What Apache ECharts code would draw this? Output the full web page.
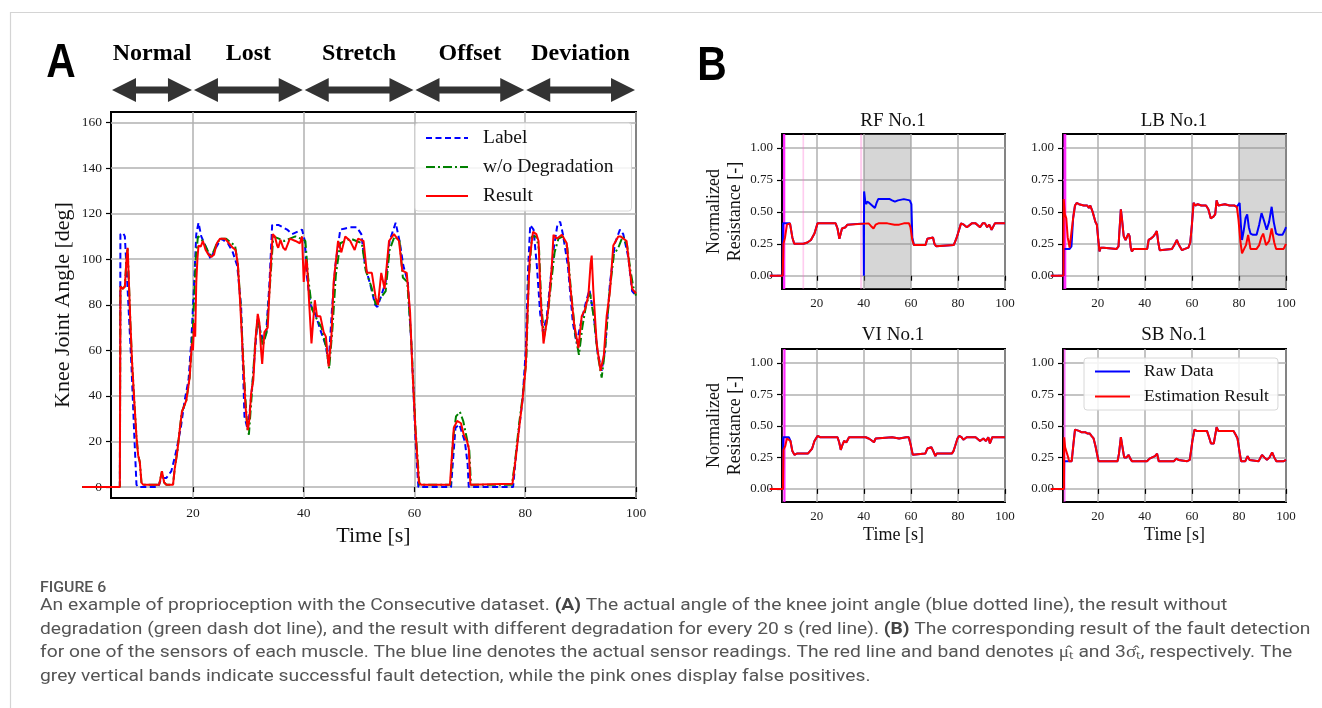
<!DOCTYPE html>
<html>
<head>
<meta charset="utf-8">
<script src="https://cdn.jsdelivr.net/npm/echarts@6/dist/echarts.min.js"></script>
<style>
  html, body { margin: 0; padding: 0; background: #fff; }
  #main { width: 1322px; height: 708px; }
</style>
</head>
<body>
<div id="main"></div>
<script>
// ---- panel A : knee joint angle [deg] vs time [s] ----
const segNames = ['Normal', 'Lost', 'Stretch', 'Offset', 'Deviation'];
const segStart = [5.2, 20, 40, 60, 80];
const segEnd = [20, 40, 60, 80, 100];
const angleTicks = [0, 20, 40, 60, 80, 100, 120, 140, 160];
const timeTicks = [20, 40, 60, 80, 100];
const resTicks = [0, 0.25, 0.5, 0.75, 1.0];

const labelAngle = [[0,0],[6.8,0],[6.9,111],[7.4,111.5],[7.7,110],[8.3,82],[8.9,53],[9.4,23],[9.8,1],[10.1,0],[13.7,0],[14.3,4],[15.2,4],[16.1,7],[17.0,16],[17.8,26],[18.5,38],[19.2,47],[19.7,64],[20.2,89],[20.6,111],[21.0,116],[21.5,110],[22.4,105],[23.2,100],[23.9,104],[25.1,109],[26.3,107],[27.2,103],[28.0,97],[28.7,79],[29.3,31],[29.9,25],[30.8,47],[31.7,75],[32.0,70],[32.6,65],[33.2,67],[33.8,89],[34.3,115],[35.5,115],[37.0,113],[37.9,111],[38.8,112],[39.7,113],[40.2,108],[40.6,92],[41.2,80],[42.1,76],[43.0,69],[44.0,62],[44.5,54],[45.1,78],[45.7,97],[46.6,113],[47.5,113.5],[48.4,114],[49.6,114],[50.4,111],[51.1,97],[52.0,89],[52.9,80],[53.3,79],[54.0,84],[54.8,90],[55.5,108],[56.6,116],[57.3,108],[58.0,97],[58.8,90],[59.5,60],[60.2,20],[60.7,0],[66.6,0],[67.4,26],[68.1,27.5],[69.1,20],[69.6,10],[69.8,0],[77.8,0],[78.3,13],[78.9,26],[79.5,38],[80.1,60],[80.5,95],[80.9,115],[81.5,113],[82.1,97],[82.7,76],[83.2,68],[83.9,75],[85.1,104],[85.8,115],[86.3,116.5],[86.8,111],[87.7,97],[88.6,72],[89.3,63],[89.9,70.5],[91.0,81.5],[91.6,86.5],[92.4,75],[93.0,60],[93.8,51],[94.4,60],[95.3,89.5],[96.2,107],[97.1,113],[97.7,111],[98.6,101],[99.3,86],[100,84]];

const noDegAngle = [[0,0],[6.8,0],[6.9,88],[7.3,87],[7.7,88],[8.0,100],[8.2,105],[8.4,92],[8.7,72],[9.0,55],[9.4,38],[9.8,22],[10.1,14],[10.4,11],[10.7,2],[11.0,1],[13.9,1],[14.4,7],[14.8,2],[15.2,1],[16.4,1],[16.7,8],[17.2,16],[17.6,25],[18.0,33],[18.8,38],[19.4,48],[20.0,70],[20.5,100],[20.9,110],[21.5,109],[22.2,106],[23.0,102],[23.5,102],[24.3,107],[25.0,109],[26.0,109],[27.0,107],[27.6,106],[28.1,98],[28.6,80],[29.2,50],[29.8,26],[30.1,23],[30.6,40],[31.2,62],[31.7,74],[32.2,68],[32.6,62],[33.3,68],[34.0,92],[34.5,110],[35.5,109],[36.5,108],[37.5,109],[38.5,110],[39.5,109],[40.3,108],[40.8,92],[41.5,78],[42.3,74],[43.2,70],[44.1,61],[44.6,52],[45.2,70],[45.8,93],[46.6,107],[47.5,108],[48.5,109],[49.5,108],[50.5,107],[51.2,95],[52.2,88],[53.0,80],[53.6,82],[54.2,84],[54.8,86],[55.5,104],[56.4,110],[57.3,108],[57.9,92],[58.7,90],[59.4,65],[60.2,25],[60.9,1],[66.5,1],[67.0,22],[67.5,31],[68.2,33],[68.8,29],[69.4,22],[69.9,16],[70.2,1],[77.6,1],[78.2,12],[78.9,28],[79.6,41],[80.2,56],[80.6,90],[81.2,110],[82.0,110],[82.5,104],[82.9,80],[83.4,66],[84.0,74],[84.6,88],[85.3,103],[86.0,109],[86.8,110],[87.6,105],[88.3,85],[89.1,66],[89.7,58],[90.3,70],[91.0,80],[91.7,85],[92.4,74],[93.1,58],[93.8,48],[94.4,60],[95.2,85],[96.0,102],[96.8,105],[97.6,110],[98.4,106],[99.0,95],[99.5,88],[100,84]];

const resultAngle = [[0,0],[6.8,0],[6.9,88],[7.3,87],[7.7,88],[8.0,100],[8.2,105],[8.4,92],[8.7,72],[9.0,55],[9.4,38],[9.8,22],[10.1,14],[10.4,11],[10.7,2],[11.0,1],[13.9,1],[14.4,7],[14.8,2],[15.2,1],[16.4,1],[16.7,8],[17.2,16],[17.6,25],[18.0,33],[18.8,38],[19.4,48],[19.8,63],[20.0,60],[20.2,72],[20.4,66],[20.6,90],[20.8,100],[21.0,106],[21.4,105.5],[21.8,108],[22.3,104],[22.8,102],[23.3,101],[23.8,102],[24.3,107],[24.9,109],[25.8,109],[26.5,107],[27.2,105],[27.7,104],[28.1,98],[28.5,82],[29.0,58],[29.5,35],[29.9,25],[30.2,30],[30.5,41],[30.9,47],[31.3,65],[31.7,76],[32.0,72],[32.3,60],[32.5,54],[32.9,68],[33.5,70],[34.0,95],[34.4,111],[34.8,110],[35.2,106],[35.4,105],[35.8,108.5],[36.3,105],[36.7,104],[37.5,109],[38.5,108],[39.3,107],[39.7,110],[40.0,90],[40.4,100],[40.6,98],[41.0,80],[41.4,63],[42.0,82],[42.4,75],[43.0,75],[43.6,68],[44.0,66],[44.5,53],[45.0,66],[45.4,90],[46.2,108],[46.8,103],[47.5,110],[48.4,108],[49.2,104],[49.8,109],[50.8,108],[51.4,94],[52.3,94],[53.0,83],[53.4,80],[54.0,94],[54.6,87],[55.4,108],[56.3,111],[57.2,108],[57.8,95],[58.6,94],[59.2,77],[59.6,53],[60.2,24],[60.8,2],[61.2,1],[66.4,1],[67.1,26],[67.7,29],[68.4,28],[68.9,23],[69.5,20],[69.8,17],[70.1,1],[77.7,1.5],[78.3,13],[78.9,26],[79.5,38],[80.1,53],[80.4,75],[80.8,100],[81.4,112],[82.0,111],[82.4,108],[82.8,82],[83.3,63],[83.9,73],[84.2,79],[84.8,97],[85.1,110.7],[85.7,109],[86.6,110.7],[87.5,107],[88.1,89],[88.8,72],[89.6,61],[90.2,75],[90.8,78],[91.4,84],[91.8,98],[92.0,101.6],[92.3,86],[92.9,63],[93.6,51],[94.2,58],[94.7,75],[95.3,86],[95.9,106],[96.8,110],[97.2,110],[98.3,108],[98.8,97],[99.3,87],[100,85]];

// ---- panel B : normalized resistance [-] vs time [s] ----
const rfEst = [[0,0],[5.5,0],[5.8,0.25],[6.5,0.30],[7.3,0.40],[8.0,0.41],[8.6,0.41],[9.6,0.30],[10.4,0.25],[10.9,0.24],[14.3,0.25],[16.0,0.26],[17.5,0.28],[19.0,0.33],[20.3,0.41],[28.0,0.41],[28.8,0.37],[29.6,0.29],[30.3,0.34],[30.7,0.37],[31.5,0.36],[32.2,0.38],[33.0,0.40],[33.5,0.41],[42.0,0.41],[43.0,0.39],[44.1,0.37],[45.0,0.40],[46.2,0.41],[50,0.41],[53,0.40],[55,0.40],[57,0.41],[59.2,0.41],[59.8,0.38],[60.6,0.28],[61.3,0.24],[66.2,0.24],[67.0,0.29],[67.6,0.30],[69.4,0.30],[70.0,0.25],[70.8,0.23],[71.3,0.24],[78.2,0.24],[79.3,0.29],[80.0,0.33],[81.3,0.41],[82.5,0.40],[83.8,0.38],[85.9,0.41],[87.5,0.41],[89.4,0.38],[90.5,0.41],[91.5,0.41],[92.4,0.38],[93.3,0.40],[94.3,0.36],[95.7,0.41],[100,0.41]];
const rfRawStart = [[0,0],[5.5,0],[5.6,0.41],[8.6,0.41]];
const rfRawFault = [[39.9,0.41],[40.0,0],[40.1,0.66],[40.6,0.58],[41.0,0.56],[41.4,0.58],[42.3,0.57],[43.5,0.55],[44.7,0.53],[45.4,0.57],[46.1,0.60],[48,0.60],[51,0.60],[52,0.59],[53.2,0.58],[54.5,0.59],[57,0.60],[59.5,0.59],[60.2,0.56],[60.6,0.30]];

const lbEst = [[0,0],[5.4,0],[5.5,0.60],[6.0,0.48],[6.6,0.45],[7.2,0.30],[8.0,0.22],[8.8,0.23],[9.5,0.45],[10.3,0.55],[11.0,0.57],[12,0.56],[14,0.55],[15.5,0.55],[16.2,0.53],[16.8,0.55],[17.8,0.50],[19.0,0.42],[19.6,0.40],[20.2,0.28],[20.7,0.19],[21.2,0.22],[21.8,0.21],[22.5,0.22],[23.2,0.21],[28.0,0.21],[28.8,0.23],[29.3,0.38],[29.8,0.52],[30.3,0.44],[31.0,0.31],[31.8,0.28],[32.4,0.28],[33.0,0.33],[33.5,0.31],[34.0,0.22],[34.5,0.19],[35.2,0.21],[41.0,0.21],[41.6,0.28],[42.5,0.29],[43.7,0.31],[44.5,0.33],[45.1,0.35],[45.7,0.26],[46.3,0.20],[47,0.21],[51.5,0.21],[52.5,0.24],[53.6,0.28],[54.5,0.24],[55.8,0.20],[57,0.21],[58.5,0.22],[59.3,0.26],[60.0,0.40],[60.7,0.57],[61.5,0.55],[62.5,0.56],[64,0.55],[66,0.55],[67.0,0.52],[68.0,0.45],[69.0,0.46],[69.9,0.48],[70.5,0.59],[71.2,0.55],[72.0,0.55],[74,0.56],[76,0.55],[78,0.55],[79.1,0.54],[79.8,0.44],[80.6,0.27],[81.3,0.175],[82.2,0.21],[83.0,0.24],[83.9,0.32],[84.9,0.21],[87.5,0.21],[88.6,0.24],[89.5,0.30],[90.3,0.33],[91.5,0.24],[92.8,0.27],[93.9,0.37],[95.0,0.26],[95.8,0.21],[99.0,0.21],[100,0.25]];
const lbRawStart = [[0,0],[5.4,0],[5.5,0.21],[8.0,0.21],[8.8,0.23]];
const lbRawFault = [[79.8,0.55],[80.3,0.57],[80.8,0.40],[81.3,0.28],[82.0,0.35],[82.8,0.45],[83.5,0.48],[84.2,0.38],[84.9,0.33],[86.0,0.32],[87.5,0.32],[88.6,0.40],[89.6,0.49],[90.5,0.44],[91.8,0.36],[92.8,0.42],[93.9,0.54],[94.8,0.42],[95.8,0.33],[97,0.32],[98.5,0.32],[99.6,0.36],[100,0.38]];

const viEst = [[0,0],[5.6,0],[5.8,0.31],[6.6,0.34],[7.3,0.40],[8.1,0.41],[8.8,0.38],[9.6,0.30],[10.5,0.27],[11.5,0.28],[16.2,0.28],[17.0,0.29],[18.0,0.32],[19.0,0.38],[20.3,0.42],[21.5,0.41],[28.8,0.41],[29.5,0.37],[30.2,0.31],[30.9,0.35],[31.6,0.38],[32.6,0.37],[33.7,0.41],[40.8,0.41],[42.0,0.40],[42.9,0.39],[44.3,0.37],[45.0,0.40],[45.7,0.41],[52,0.41],[55,0.40],[58,0.41],[59.1,0.41],[59.9,0.35],[60.8,0.27],[61.5,0.27],[66.1,0.28],[67.0,0.32],[67.6,0.33],[68.7,0.33],[69.5,0.30],[70.4,0.26],[71.0,0.28],[77.4,0.28],[78.1,0.30],[78.8,0.34],[79.8,0.40],[80.5,0.42],[81.5,0.41],[82.3,0.39],[83.7,0.41],[86.0,0.41],[87.5,0.41],[89.4,0.38],[90.8,0.40],[91.9,0.38],[92.9,0.41],[93.6,0.36],[94.6,0.41],[100,0.41]];
const viRawStart = [[0,0],[5.6,0],[5.7,0.41],[8.1,0.41]];

const sbEst = [[0,0],[5.6,0],[5.7,0.41],[6.1,0.33],[6.5,0.32],[6.9,0.33],[7.4,0.25],[7.8,0.22],[8.9,0.22],[9.6,0.35],[10.3,0.47],[11,0.46],[12,0.46],[13,0.45],[14.6,0.45],[15.5,0.44],[16.5,0.44],[17.3,0.42],[18.2,0.40],[19.0,0.34],[20.3,0.22],[21,0.22],[28.4,0.22],[29.0,0.28],[29.8,0.41],[30.5,0.33],[31.2,0.25],[32.2,0.25],[33.1,0.27],[33.8,0.24],[34.5,0.22],[40.9,0.22],[42.0,0.24],[43.1,0.25],[44.3,0.26],[45.2,0.28],[45.9,0.22],[52.3,0.22],[53.4,0.24],[54.3,0.23],[55.1,0.22],[58.0,0.22],[59.1,0.23],[60.2,0.38],[61.1,0.47],[62,0.46],[64,0.46],[66.4,0.46],[67.3,0.41],[68.1,0.36],[69.3,0.36],[70.0,0.37],[70.5,0.49],[71.2,0.46],[72.1,0.46],[75,0.46],[77.7,0.46],[78.6,0.43],[79.4,0.40],[80.2,0.30],[80.9,0.22],[82.7,0.22],[83.7,0.26],[84.5,0.23],[85.1,0.22],[88.4,0.22],[89.2,0.25],[89.8,0.27],[90.8,0.25],[91.9,0.23],[93.0,0.25],[94.1,0.29],[95.0,0.25],[95.9,0.22],[99,0.22],[100,0.23]];
const sbRawStart = [[0,0],[5.6,0],[5.7,0.22],[7.8,0.22]];

// detection bands: [start, end, kind]
const rfBands = [[5.6, 6.6, 'fp'], [13.9, 14.6, 'fpLight'], [38.4, 39.3, 'fpLight'], [40, 60, 'hit']];
const lbBands = [[5.4, 6.6, 'fp'], [80, 100, 'hit']];
const viBands = [[5.3, 5.8, 'fpLight'], [5.8, 6.7, 'fp']];
const sbBands = [[5.3, 5.8, 'fpLight'], [5.8, 6.2, 'fp']];

const captionLines = [
  'An example of proprioception with the Consecutive dataset. {b|(A)} The actual angle of the knee joint angle (blue dotted line), the result without',
  'degradation (green dash dot line), and the result with different degradation for every 20 s (red line). {b|(B)} The corresponding result of the fault detection',
  'for one of the sensors of each muscle. The blue line denotes the actual sensor readings. The red line and band denotes μ̂ₜ and 3σ̂ₜ, respectively. The',
  'grey vertical bands indicate successful fault detection, while the pink ones display false positives.'
];

// raw sensor series = estimation outside the fault stretches
const rfRaw = rfRawStart.concat(rfEst.filter(p => p[0] > 8.6 && p[0] < 39.9), rfRawFault, rfEst.filter(p => p[0] > 60.6));
const lbRaw = lbRawStart.concat(lbEst.filter(p => p[0] > 8.8 && p[0] < 79.8), lbRawFault);
const viRaw = viRawStart.concat(viEst.filter(p => p[0] > 8.1));
const sbRaw = sbRawStart.concat(sbEst.filter(p => p[0] > 7.8));

const SERIF = 'Liberation Serif';
const GRIDLINE = { color: '#b0b0b0', width: 1.5 };
const X_MIN = 5.2, X_MAX = 100;
const bandColor = {
  hit: 'rgba(140,140,140,0.36)',
  fp: 'rgba(255,20,255,0.9)',
  fpLight: 'rgba(255,110,210,0.35)'
};

// visible frames (axes, grid lines) ...
const frames = [
  { left: 111, top: 112, width: 525, height: 386, yMin: -4.8, yMax: 164.6 },
  { left: 782, top: 134, width: 223, height: 155, yMin: -0.104, yMax: 1.11 },
  { left: 1063, top: 134, width: 223, height: 155, yMin: -0.104, yMax: 1.11 },
  { left: 782, top: 349, width: 223, height: 153, yMin: -0.104, yMax: 1.11 },
  { left: 1063, top: 349, width: 223, height: 153, yMin: -0.104, yMax: 1.11 }
];
// ... and data grids that also cover t = 0 .. X_MIN, as matplotlib draws the lines unclipped there
const grids = frames.map(f => ({ show: true, borderColor: '#000', borderWidth: 2, backgroundColor: '#fff', outerBoundsMode: 'none',
  left: f.left, top: f.top, width: f.width, height: f.height }));
frames.forEach(f => {
  const pxPerUnit = f.width / (X_MAX - X_MIN);
  grids.push({ show: false, outerBoundsMode: 'none', left: f.left - X_MIN * pxPerUnit, top: f.top, width: pxPerUnit * X_MAX, height: f.height });
});

function timeAxis(gi, fs, name, nameSize, nameGap) {
  return {
    type: 'value', gridIndex: gi, min: X_MIN, max: X_MAX,
    axisLine: { show: false },
    axisTick: { show: true, customValues: timeTicks, length: 5, lineStyle: { color: '#000', width: 1.2 } },
    axisLabel: { customValues: timeTicks, color: '#1a1a1a', fontFamily: SERIF, fontSize: fs, margin: 8 },
    splitLine: { show: true, lineStyle: GRIDLINE },
    name: name, nameLocation: 'middle', nameGap: nameGap,
    nameTextStyle: { fontFamily: SERIF, fontSize: nameSize, color: '#111' }
  };
}

function resAxis(gi, showName) {
  return {
    type: 'value', gridIndex: gi, min: frames[gi].yMin, max: frames[gi].yMax,
    axisLine: { show: false },
    axisTick: { show: true, customValues: resTicks, length: 5, lineStyle: { color: '#000', width: 1.2 } },
    axisLabel: { customValues: resTicks, color: '#1a1a1a', fontFamily: SERIF, fontSize: 13, margin: 9,
      formatter: v => v.toFixed(2) },
    splitLine: { show: true, lineStyle: GRIDLINE },
    name: showName ? 'Normalized\nResistance [-]' : '', nameLocation: 'middle', nameGap: 36,
    nameTextStyle: { fontFamily: SERIF, fontSize: 18, color: '#111', lineHeight: 21 }
  };
}

function line(name, data, k, color, type, z) {
  return {
    type: 'line', name: name, data: data, xAxisIndex: k + 5, yAxisIndex: k + 5,
    symbol: 'none', showSymbol: false, z: z,
    lineStyle: { color: color, width: 2, type: type },
    itemStyle: { color: color }
  };
}

function bandArea(bands) {
  return {
    silent: true,
    data: bands.map(b => [{ xAxis: b[0], itemStyle: { color: bandColor[b[2]] } }, { xAxis: b[1] }])
  };
}

const panelsB = [
  { k: 1, raw: rfRaw, est: rfEst, bands: rfBands },
  { k: 2, raw: lbRaw, est: lbEst, bands: lbBands },
  { k: 3, raw: viRaw, est: viEst, bands: viBands },
  { k: 4, raw: sbRaw, est: sbEst, bands: sbBands }
];

const series = [
  line('Label', labelAngle, 0, '#0000ff', [6, 3.5], 3),
  line('w/o Degradation', noDegAngle, 0, '#008000', [9, 3, 2, 3], 4),
  line('Result', resultAngle, 0, '#ff0000', 'solid', 5)
];
panelsB.forEach(p => {
  const raw = line('Raw Data', p.raw, p.k, '#0000ff', 'solid', 3);
  raw.markArea = bandArea(p.bands);
  series.push(raw);
  series.push(line('Estimation Result', p.est, p.k, '#ff0000', 'solid', 4));
});

const hiddenX = frames.map((f, i) => ({ type: 'value', gridIndex: i + 5, min: 0, max: X_MAX, show: false }));
const hiddenY = frames.map((f, i) => ({ type: 'value', gridIndex: i + 5, min: f.yMin, max: f.yMax, show: false }));

const chart = echarts.init(document.getElementById('main'), null, { renderer: 'canvas' });

const bTitles = [['RF No.1', 893, 121], ['LB No.1', 1174, 121], ['VI No.1', 893, 335], ['SB No.1', 1174, 335]];

const legendBase = {
  orient: 'vertical', selectedMode: false,
  backgroundColor: 'rgba(255,255,255,0.85)', borderColor: '#d8d8d8', borderWidth: 1, borderRadius: 3,
  itemStyle: { opacity: 0, borderWidth: 0 }
};

const option = {
  animation: false,
  backgroundColor: '#fff',
  grid: grids,
  xAxis: [
    timeAxis(0, 13.5, 'Time [s]', 22, 22),
    timeAxis(1, 13, '', 18, 24),
    timeAxis(2, 13, '', 18, 24),
    timeAxis(3, 13, 'Time [s]', 18, 24),
    timeAxis(4, 13, 'Time [s]', 18, 24)
  ].concat(hiddenX),
  yAxis: [
    {
      type: 'value', gridIndex: 0, min: frames[0].yMin, max: frames[0].yMax,
      axisLine: { show: false },
      axisTick: { show: true, customValues: angleTicks, length: 5, lineStyle: { color: '#000', width: 1.2 } },
      axisLabel: { customValues: angleTicks, color: '#1a1a1a', fontFamily: SERIF, fontSize: 13.5, margin: 9 },
      splitLine: { show: true, lineStyle: GRIDLINE },
      name: 'Knee Joint Angle [deg]', nameLocation: 'middle', nameGap: 37,
      nameTextStyle: { fontFamily: SERIF, fontSize: 22, color: '#111' }
    },
    resAxis(1, true), resAxis(2, false), resAxis(3, true), resAxis(4, false)
  ].concat(hiddenY),
  legend: [
    Object.assign({}, legendBase, {
      data: ['Label', 'w/o Degradation', 'Result'],
      left: 415, top: 123,
      padding: [5, 18, 5, 10], itemGap: 9, itemWidth: 42, itemHeight: 14,
      textStyle: { fontFamily: SERIF, fontSize: 19.5, color: '#111', lineHeight: 20, padding: [0, 0, 0, 10] }
    }),
    Object.assign({}, legendBase, {
      data: ['Raw Data', 'Estimation Result'],
      left: 1084, top: 358,
      padding: [4, 9, 4, 10], itemGap: 6, itemWidth: 35, itemHeight: 12,
      textStyle: { fontFamily: SERIF, fontSize: 17.5, color: '#111', lineHeight: 19, padding: [0, 0, 0, 9] }
    })
  ],
  series: series
};
chart.setOption(option);

// decorations: headings, segment arrows and caption
const gfx = [];
gfx.push({ type: 'polyline', silent: true, shape: { points: [[10.5, 708], [10.5, 12.5], [1322, 12.5]] },
  style: { stroke: '#d4d4d4', lineWidth: 1.2, fill: null } });
gfx.push({ type: 'text', x: 61, y: 64, scaleX: 0.85, style: { text: 'A', font: 'bold 48px "Liberation Sans"', fill: '#000', textAlign: 'center', textVerticalAlign: 'middle' } });
gfx.push({ type: 'text', x: 712, y: 67, scaleX: 0.85, style: { text: 'B', font: 'bold 48px "Liberation Sans"', fill: '#000', textAlign: 'center', textVerticalAlign: 'middle' } });

segNames.forEach((nm, i) => {
  const x1 = chart.convertToPixel({ xAxisIndex: 0 }, segStart[i]) + 1;
  const x2 = chart.convertToPixel({ xAxisIndex: 0 }, segEnd[i]) - 1;
  const y = 90, hl = 24, hh = 12, st = 3.5;
  gfx.push({ type: 'polygon', silent: true, shape: { points: [
    [x1, y], [x1 + hl, y - hh], [x1 + hl, y - st], [x2 - hl, y - st], [x2 - hl, y - hh],
    [x2, y], [x2 - hl, y + hh], [x2 - hl, y + st], [x1 + hl, y + st], [x1 + hl, y + hh]] },
    style: { fill: '#333' } });
  gfx.push({ type: 'text', x: (x1 + x2) / 2, y: 54, style: { text: nm, font: 'bold 24px "Liberation Serif"', fill: '#000', textAlign: 'center', textVerticalAlign: 'middle' } });
});

bTitles.forEach(t => {
  gfx.push({ type: 'text', x: t[1], y: t[2], style: { text: t[0], font: '19px "Liberation Serif"', fill: '#111', textAlign: 'center', textVerticalAlign: 'middle' } });
});

// caption, squeezed to the width of the original condensed face
const capFont = '17px Roboto';
const ctx = document.createElement('canvas').getContext('2d');
ctx.font = capFont;
const plain = captionLines[1].replace(/\{b\|([^}]*)\}/g, '$1');
const capScale = 1270 / ctx.measureText(plain).width;
gfx.push({ type: 'text', x: 40, y: 588, scaleX: capScale, style: { text: 'FIGURE 6', font: '500 14px Roboto', fill: '#555', textVerticalAlign: 'middle' } });
const capY = [606, 630, 653, 677];
captionLines.forEach((ln, i) => {
  gfx.push({ type: 'text', x: 40, y: capY[i], scaleX: capScale,
    style: { text: ln, font: capFont, fill: '#555', textVerticalAlign: 'middle',
      rich: { b: { fontWeight: 'bold', fontFamily: 'Roboto', fontSize: 17, fill: '#444', color: '#444' } } } });
});

chart.setOption({ graphic: gfx });
</script>
</body>
</html>
